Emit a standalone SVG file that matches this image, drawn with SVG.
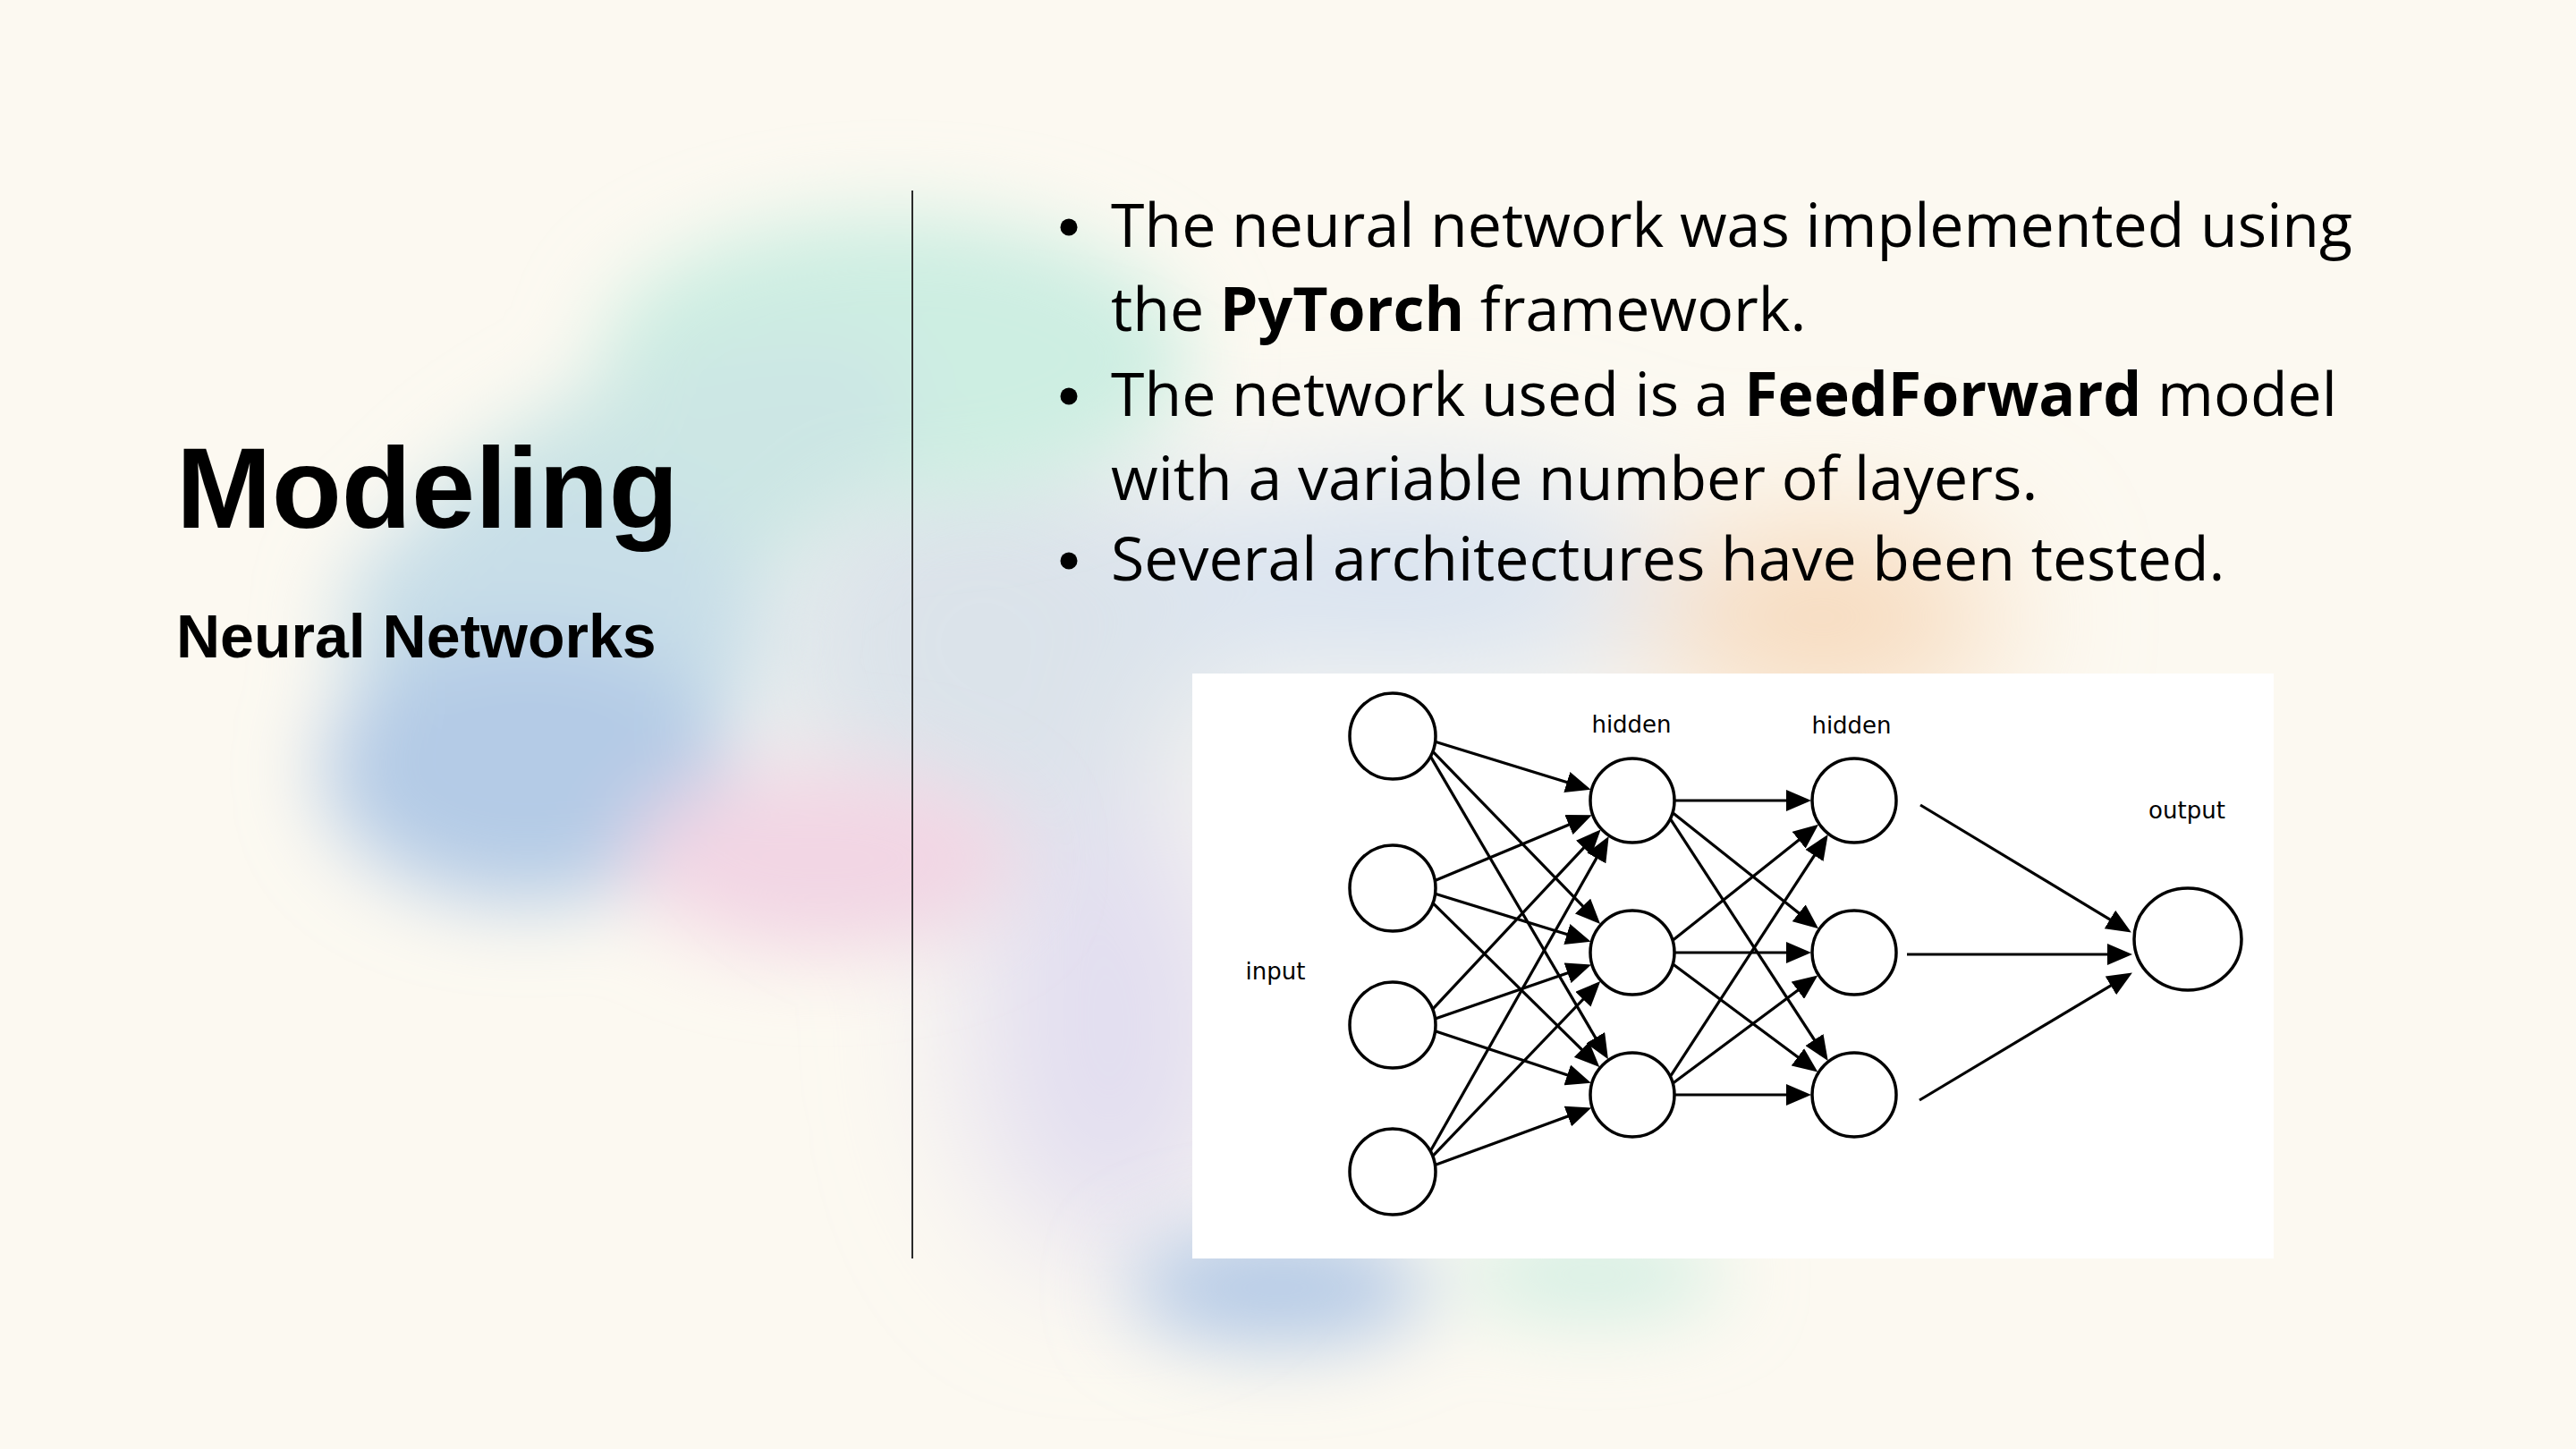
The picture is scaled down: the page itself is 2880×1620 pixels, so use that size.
<svg xmlns="http://www.w3.org/2000/svg" width="2880" height="1620" viewBox="0 0 2880 1620">
  <defs>
    <filter id="soft" x="-50%" y="-50%" width="200%" height="200%">
      <feGaussianBlur stdDeviation="45"/>
    </filter>
    <filter id="softer" x="-50%" y="-50%" width="200%" height="200%">
      <feGaussianBlur stdDeviation="80"/>
    </filter>
    <marker id="ah" markerUnits="userSpaceOnUse" markerWidth="28" markerHeight="24" refX="21" refY="12" orient="auto">
      <path d="M0,0 L28,12 L0,24 z" fill="#000"/>
    </marker>
    <style>
      .title { font-family: "Liberation Sans", Arial, sans-serif; font-weight: 700; fill: #000; }
      .body { font-family: "Open Sans", "Liberation Sans", sans-serif; font-size: 68px; fill: #000; }
      .body .b { font-weight: 700; }
      .dot { fill: #000; }
      .lbl { font-family: "DejaVu Sans", sans-serif; font-size: 26px; fill: #000; text-anchor: middle; }
      .neuron { fill: #fff; stroke: #000; stroke-width: 3.5; }
      .edge { stroke: #000; stroke-width: 3.2; fill: none; marker-end: url(#ah); }
    </style>
  </defs>

  <!-- page background -->
  <rect width="2880" height="1620" fill="#fcf9f1"/>

  <!-- blurred colour wash behind the content -->
  <g filter="url(#softer)">
    <ellipse cx="1100" cy="720" rx="260" ry="260" fill="#dbe3ea"/>
    <ellipse cx="1240" cy="1150" rx="160" ry="260" fill="#e2def0"/>
    <ellipse cx="1560" cy="650" rx="300" ry="110" fill="#d6e1f0"/>
    <ellipse cx="2040" cy="690" rx="200" ry="95" fill="#f6d6b6"/>
  </g>
  <g filter="url(#soft)">
    <ellipse cx="1000" cy="400" rx="330" ry="160" fill="#cdeee2"/>
    <ellipse cx="720" cy="560" rx="330" ry="140" fill="#cce6e4" transform="rotate(-25 720 560)"/>
    <ellipse cx="620" cy="700" rx="240" ry="160" fill="#c8dee8"/>
    <ellipse cx="590" cy="860" rx="230" ry="150" fill="#b4cbe6"/>
    <ellipse cx="920" cy="960" rx="220" ry="105" fill="#f2d6e4"/>
    <ellipse cx="1430" cy="1440" rx="170" ry="65" fill="#b3c9e6"/>
    <ellipse cx="1780" cy="1425" rx="150" ry="45" fill="#d0eee2"/>
  </g>

  <!-- left heading -->
  <text class="title" x="197" y="590" font-size="128">Modeling</text>
  <text class="title" x="197" y="735" font-size="68">Neural Networks</text>

  <!-- divider -->
  <line x1="1020" y1="213" x2="1020" y2="1407" stroke="#2a2a2a" stroke-width="2"/>

  <!-- bullet list -->
  <g class="body">
    <circle class="dot" cx="1195" cy="254" r="9.5"/>
    <text x="1242" y="276">The neural network was implemented using</text>
    <text x="1242" y="370">the <tspan class="b">PyTorch</tspan> framework.</text>
    <circle class="dot" cx="1195" cy="443" r="9.5"/>
    <text x="1242" y="465">The network used is a <tspan class="b">FeedForward</tspan> model</text>
    <text x="1242" y="559">with a variable number of layers.</text>
    <circle class="dot" cx="1195" cy="627" r="9.5"/>
    <text x="1242" y="649">Several architectures have been tested.</text>
  </g>

  <!-- network figure panel -->
  <rect x="1333" y="753" width="1209" height="654" fill="#fff"/>

  <!-- connectors -->
  <g id="connectors">
    <!-- input -> hidden 1 -->
    <line class="edge" x1="1604.6" y1="829.3" x2="1771.9" y2="880.7"/>
    <line class="edge" x1="1601.8" y1="840.2" x2="1784.2" y2="1028.1"/>
    <line class="edge" x1="1599.3" y1="845.6" x2="1794.4" y2="1178.3"/>
    <line class="edge" x1="1604.3" y1="984.6" x2="1773.3" y2="913.9"/>
    <line class="edge" x1="1604.6" y1="999.3" x2="1771.9" y2="1050.7"/>
    <line class="edge" x1="1602.0" y1="1009.7" x2="1783.3" y2="1188.1"/>
    <line class="edge" x1="1601.6" y1="1128.4" x2="1784.9" y2="932.6"/>
    <line class="edge" x1="1604.5" y1="1139.0" x2="1772.4" y2="1080.9"/>
    <line class="edge" x1="1604.5" y1="1152.8" x2="1772.2" y2="1208.6"/>
    <line class="edge" x1="1599.2" y1="1287.0" x2="1795.2" y2="941.2"/>
    <line class="edge" x1="1601.7" y1="1292.6" x2="1784.4" y2="1102.1"/>
    <line class="edge" x1="1604.4" y1="1302.6" x2="1772.6" y2="1240.8"/>
    <!-- hidden 1 -> hidden 2 -->
    <line class="edge" x1="1873" y1="895" x2="2018" y2="895"/>
    <line class="edge" x1="1870.8" y1="909.2" x2="2027.6" y2="1033.9"/>
    <line class="edge" x1="1868.0" y1="916.4" x2="2039.9" y2="1180.1"/>
    <line class="edge" x1="1870.8" y1="1050.8" x2="2027.6" y2="926.1"/>
    <line class="edge" x1="1873" y1="1065" x2="2018" y2="1065"/>
    <line class="edge" x1="1871.1" y1="1078.5" x2="2026.7" y2="1194.3"/>
    <line class="edge" x1="1868.0" y1="1202.6" x2="2039.9" y2="938.9"/>
    <line class="edge" x1="1871.1" y1="1210.5" x2="2026.7" y2="1094.7"/>
    <line class="edge" x1="1873" y1="1224" x2="2018" y2="1224"/>
    <!-- hidden 2 -> output -->
    <line class="edge" x1="2147" y1="900" x2="2376.9" y2="1038.9"/>
    <line class="edge" x1="2132" y1="1067" x2="2377" y2="1067"/>
    <line class="edge" x1="2146" y1="1230" x2="2377.9" y2="1091.1"/>
  </g>

  <!-- input layer -->
  <g id="in1"><circle class="neuron" cx="1557" cy="823" r="48"/></g>
  <g id="in2"><circle class="neuron" cx="1557" cy="993" r="48"/></g>
  <g id="in3"><circle class="neuron" cx="1557" cy="1146" r="48"/></g>
  <g id="in4"><circle class="neuron" cx="1557" cy="1310" r="48"/></g>
  <!-- first hidden layer -->
  <g id="h1a"><circle class="neuron" cx="1825" cy="895" r="47"/></g>
  <g id="h1b"><circle class="neuron" cx="1825" cy="1065" r="47"/></g>
  <g id="h1c"><circle class="neuron" cx="1825" cy="1224" r="47"/></g>
  <!-- second hidden layer -->
  <g id="h2a"><circle class="neuron" cx="2073" cy="895" r="47"/></g>
  <g id="h2b"><circle class="neuron" cx="2073" cy="1065" r="47"/></g>
  <g id="h2c"><circle class="neuron" cx="2073" cy="1224" r="47"/></g>
  <!-- output layer -->
  <g id="out"><ellipse class="neuron" cx="2446" cy="1050" rx="60" ry="57"/></g>

  <!-- layer labels -->
  <g id="labels">
    <text class="lbl" x="1426" y="1095">input</text>
    <text class="lbl" x="1824" y="819">hidden</text>
    <text class="lbl" x="2070" y="820">hidden</text>
    <text class="lbl" x="2445" y="915">output</text>
  </g>
</svg>
